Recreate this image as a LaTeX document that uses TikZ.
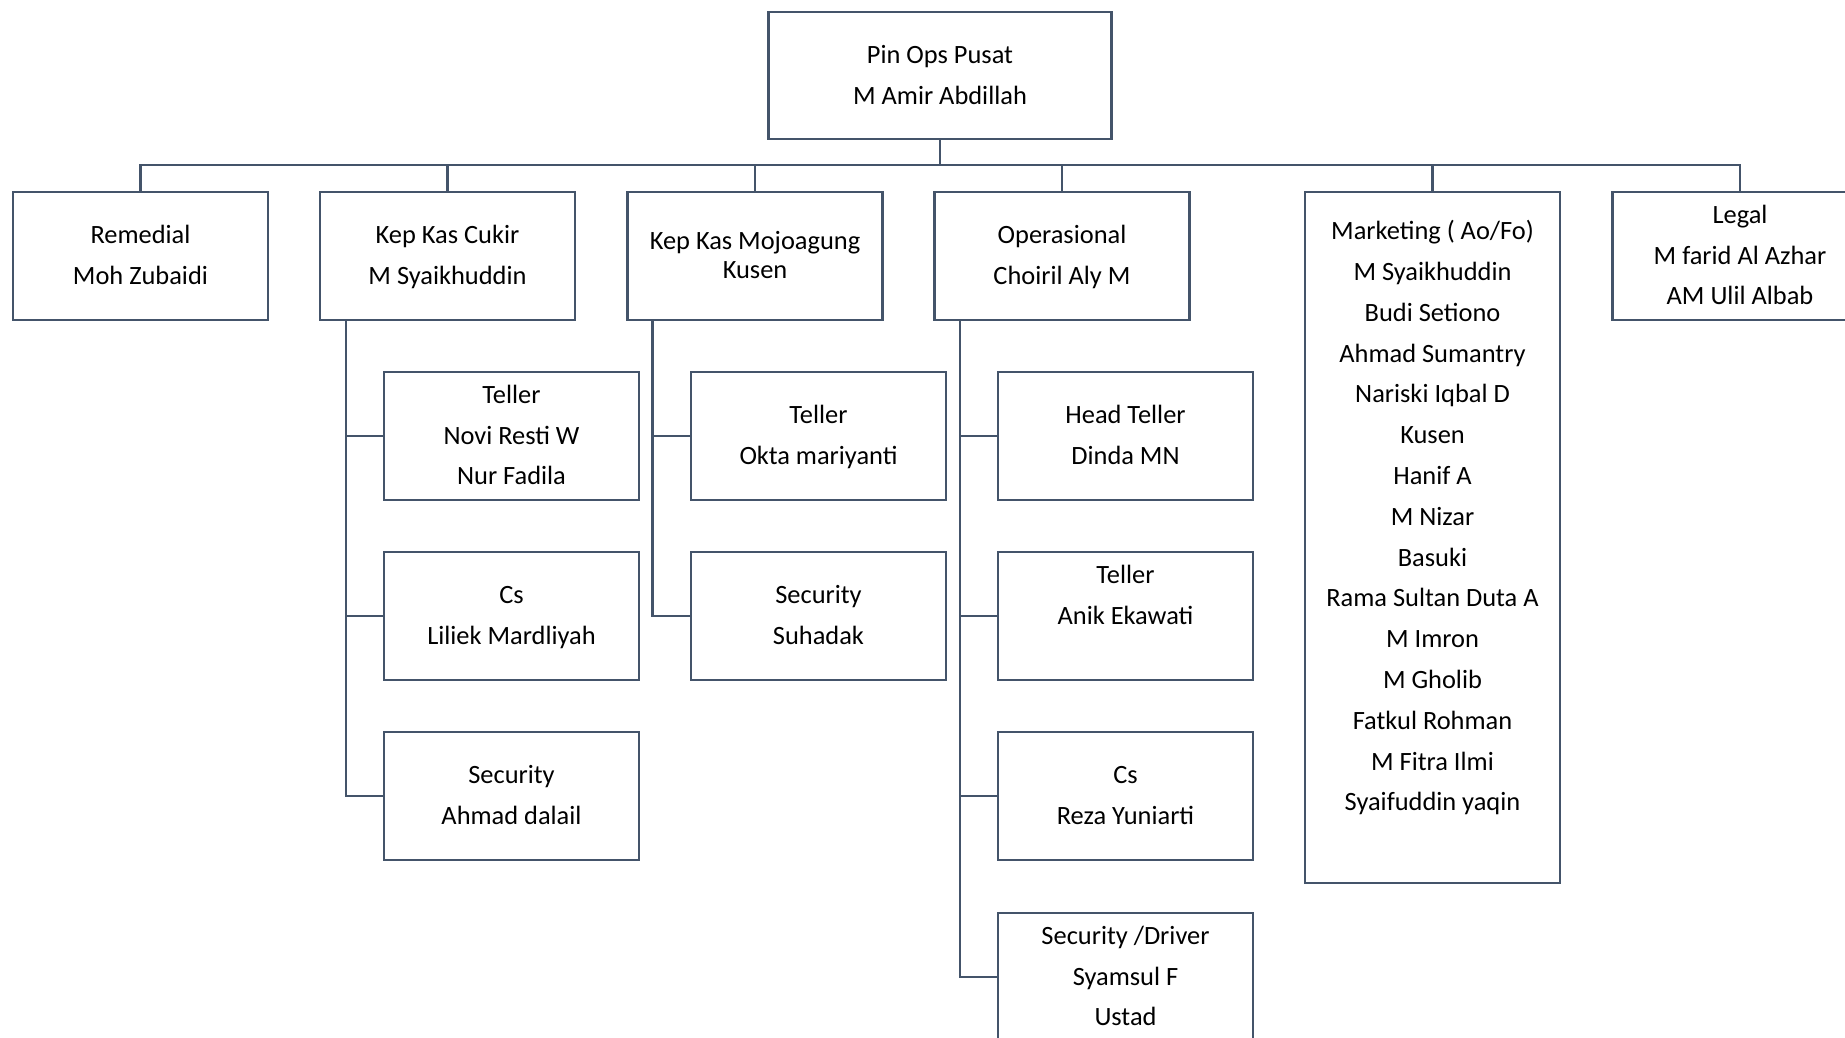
\documentclass[tikz,border=0pt]{standalone}
\usepackage{fontspec}
\setmainfont{Carlito}
\definecolor{ink}{HTML}{44546A}
\begin{document}
\begin{tikzpicture}[x=1pt,y=-1pt,
  unit/.style={draw=ink, line width=2.8pt, minimum width=255pt, minimum height=128pt,
    inner sep=0pt, outer sep=0pt, align=center, font=\fontsize{26.4}{40.8}\selectfont},
  link/.style={draw=ink, line width=2.5pt}]
\clip (0,0) rectangle (1845,1038);
\fill[white] (0,0) rectangle (1845,1038);

% head of the branch
\node[unit, minimum width=343pt, minimum height=127pt] (top) at (940,75.5)
  {\strut Pin Ops Pusat\\\strut M Amir Abdillah};

% first level
\node[unit] (rem) at (140.5,256) {\strut Remedial\\\strut Moh Zubaidi};
\node[unit] (cukir) at (447.5,256) {\strut Kep Kas Cukir\\\strut M Syaikhuddin};
\node[unit] (mojo) at (755,256) {\strut Kep Kas Mojoagung\\[-11.8pt]\strut Kusen};
\node[unit] (ops) at (1062,256) {\strut Operasional\\\strut Choiril Aly M};
\node[unit, minimum height=691pt] (mkt) at (1432.5,537.5)
  {\strut Marketing ( Ao/Fo)\\\strut M Syaikhuddin\\\strut Budi Setiono\\
   \strut Ahmad Sumantry\\\strut Nariski Iqbal D\\\strut Kusen\\\strut Hanif A\\
   \strut M Nizar\\\strut Basuki\\\strut Rama Sultan Duta A\\\strut M Imron\\
   \strut M Gholib\\\strut Fatkul Rohman\\\strut M Fitra Ilmi\\
   \strut Syaifuddin yaqin\\\strut};
\node[unit] (legal) at (1740,256)
  {\strut Legal\\\strut M farid Al Azhar\\\strut AM Ulil Albab};

% Kep Kas Cukir staff
\node[unit] (c1) at (511.5,436) {\strut Teller\\\strut Novi Resti W\\\strut Nur Fadila};
\node[unit] (c2) at (511.5,616) {\strut Cs\\\strut Liliek Mardliyah};
\node[unit] (c3) at (511.5,796) {\strut Security\\\strut Ahmad dalail};

% Kep Kas Mojoagung staff
\node[unit] (m1) at (818.5,436) {\strut Teller\\\strut Okta mariyanti};
\node[unit] (m2) at (818.5,616) {\strut Security\\\strut Suhadak};

% Operasional staff
\node[unit] (o1) at (1125.5,436) {\strut Head Teller\\\strut Dinda MN};
\node[unit] (o2) at (1125.5,616) {\strut Teller\\\strut Anik Ekawati\\\strut};
\node[unit] (o3) at (1125.5,796) {\strut Cs\\\strut Reza Yuniarti};
\node[unit] (o4) at (1125.5,977) {\strut Security /Driver\\\strut Syamsul F\\\strut Ustad};

% connectors
\coordinate (bus) at (940,165);
\draw[link] (top.south) -- (bus);
\foreach \n in {rem,cukir,mojo,ops,mkt,legal}
  \draw[link] (\n.north) |- (bus);
\foreach \n in {c1,c2,c3}
  \draw[link] ([xshift=26pt]cukir.south west) |- (\n.west);
\foreach \n in {m1,m2}
  \draw[link] ([xshift=25pt]mojo.south west) |- (\n.west);
\foreach \n in {o1,o2,o3,o4}
  \draw[link] ([xshift=25.5pt]ops.south west) |- (\n.west);
\end{tikzpicture}
\end{document}
